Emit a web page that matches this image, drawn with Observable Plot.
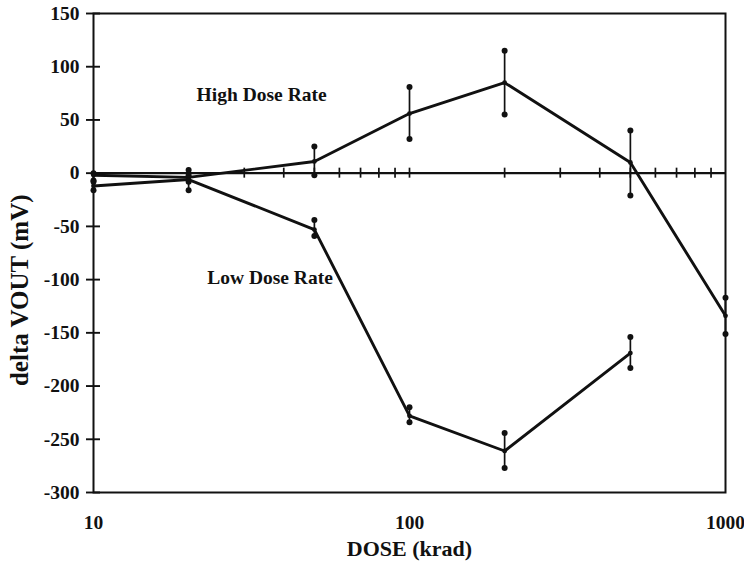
<!DOCTYPE html>
<html>
<head>
<meta charset="utf-8">
<script src="https://cdn.jsdelivr.net/npm/d3@7"></script>
<script src="https://cdn.jsdelivr.net/npm/@observablehq/plot@0.6"></script>
<style>
  html, body { margin: 0; padding: 0; background: #fff; }
  svg { display: block; }
</style>
</head>
<body>
<div id="chart"></div>
<script>
// Dose levels (krad)
const dose = [10, 20, 50, 100, 200, 500, 1000];

// High Dose Rate: mean, lower, upper (mV)
const highMean = [-2, -4, 11, 56, 85, 10, -134];
const highLow  = [-7, -8, -2, 32, 55, -21, -151];
const highHigh = [0, 3, 25, 81, 115, 40, -117];

// Low Dose Rate: mean, lower, upper (mV)
const lowDose  = [10, 20, 50, 100, 200, 500];
const lowMean  = [-12, -6, -53, -228, -261, -169];
const lowLow   = [-16, -16, -59, -234, -277, -183];
const lowHigh  = [-8, -2, -44, -220, -244, -154];

// Axis ticks
const yTicks = [-300, -250, -200, -150, -100, -50, 0, 50, 100, 150];
const xLabelTicks = [10, 100, 1000];
const xMinorTicks = [20, 30, 40, 50, 60, 70, 80, 90, 100, 200, 300, 400, 500, 600, 700, 800, 900];

const high = dose.map((d, i) => ({dose: d, v: highMean[i], lo: highLow[i], hi: highHigh[i]}));
const low = lowDose.map((d, i) => ({dose: d, v: lowMean[i], lo: lowLow[i], hi: lowHigh[i]}));
const both = high.concat(low);

const font = "'Liberation Serif', 'Times New Roman', serif";

const chart = Plot.plot({
  width: 744,
  height: 567,
  marginLeft: 93,
  marginRight: 19,
  marginTop: 13,
  marginBottom: 75,
  style: {fontFamily: font, fontWeight: "bold", fontSize: "19px", color: "#111", background: "#fff"},
  x: {type: "log", domain: [10, 1000]},
  y: {domain: [-300, 150]},
  marks: [
    Plot.frame({stroke: "#111", strokeWidth: 2}),
    Plot.ruleY([0], {stroke: "#111", strokeWidth: 2.4}),
    Plot.ruleX(xMinorTicks, {x: d => d, y1: 0, y2: 0, insetTop: -5, insetBottom: -5, stroke: "#111", strokeWidth: 1.7}),
    Plot.ruleY(yTicks, {y: d => d, x1: 10, x2: 10, insetLeft: -7, insetRight: -7, stroke: "#111", strokeWidth: 1.9}),
    Plot.axisY(yTicks, {tickSize: 0, tickPadding: 14, label: null, tickFormat: d => String(d), fontSize: 19.5, fontWeight: "bold"}),
    Plot.axisX(xLabelTicks, {tickSize: 0, tickPadding: 23, label: null, tickFormat: d => String(d), fontSize: 19.5, fontWeight: "bold"}),
    // error bars
    Plot.ruleX(both, {x: "dose", y1: "lo", y2: "hi", stroke: "#111", strokeWidth: 1.7}),
    Plot.dot(both, {x: "dose", y: "lo", r: 3, fill: "#111", stroke: null}),
    Plot.dot(both, {x: "dose", y: "hi", r: 3, fill: "#111", stroke: null}),
    // series lines
    Plot.line(high, {x: "dose", y: "v", stroke: "#111", strokeWidth: 2.9}),
    Plot.line(low, {x: "dose", y: "v", stroke: "#111", strokeWidth: 2.9}),
    Plot.dot(both, {x: "dose", y: "v", r: 2.4, fill: "#111", stroke: null}),
    // annotations
    Plot.text(["High Dose Rate"], {x: 21.2, y: 74, text: d => d, textAnchor: "start", fontSize: 19.5, fontWeight: "bold"}),
    Plot.text(["Low Dose Rate"], {x: 22.9, y: -98, text: d => d, textAnchor: "start", fontSize: 19.5, fontWeight: "bold"}),
    // axis titles
    Plot.text(["delta VOUT (mV)"], {x: 10, y: -110, text: d => d, rotate: -90, dx: -74, fontSize: 25, fontWeight: "bold"}),
    Plot.text(["DOSE (krad)"], {frameAnchor: "bottom", text: d => d, dy: 63, fontSize: 22, fontWeight: "bold"})
  ]
});

document.getElementById("chart").appendChild(chart);
</script>
</body>
</html>
